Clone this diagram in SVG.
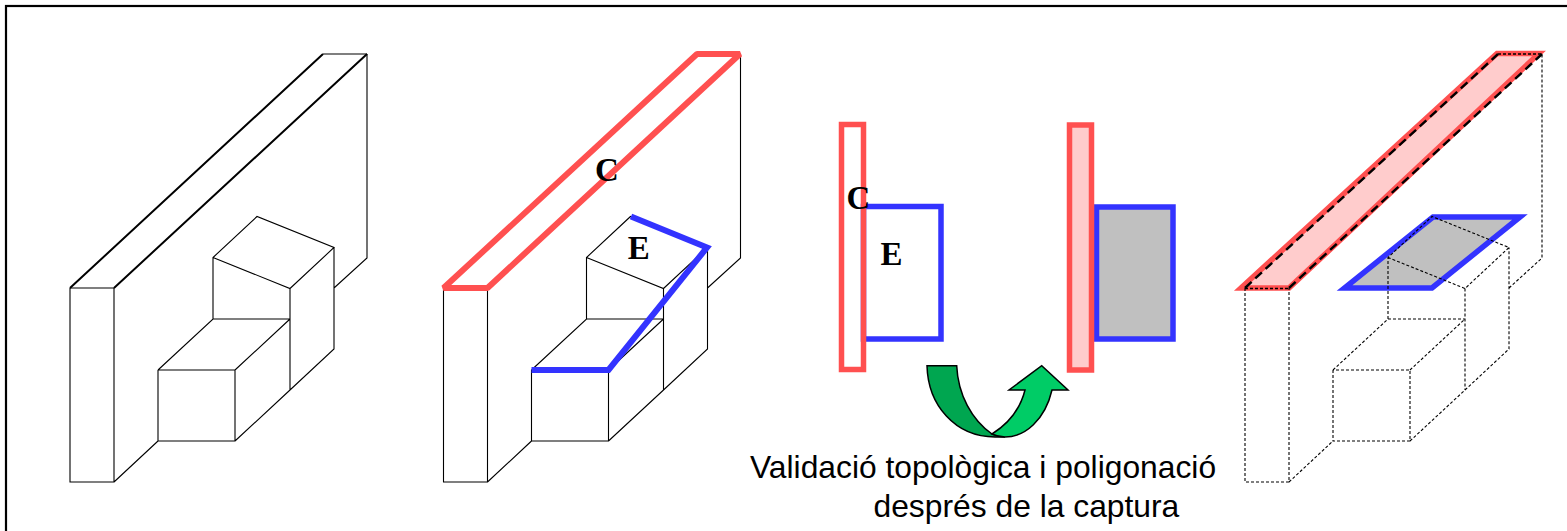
<svg xmlns="http://www.w3.org/2000/svg" width="1567" height="531" viewBox="0 0 1567 531">
<style>
.l{fill:none;stroke:#000;stroke-width:1.1}
.k{fill:none;stroke:#000;stroke-width:2}
.d{fill:none;stroke:#000;stroke-width:1.1;stroke-dasharray:3 2}
.r{stroke:#ff5050;stroke-width:6;fill:none;stroke-linejoin:bevel}
.b{stroke:#3333ff;stroke-width:6;fill:none}
.t{font-family:"Liberation Serif",serif;font-weight:bold;font-size:33px;fill:#000}
.s{font-family:"Liberation Sans",sans-serif;font-size:31.800px;fill:#000}
</style>
<defs>
<path id="solid" d="M70 288V482H114V288M70 288H114M70 482H114M114 482L158 441M158 370V441H235V370H158M235 441L290 390L334 349V247.500M158 370L213 319H290M235 370L290 319M213 319V257.500L257 216.500L334 247.500L290 288.500L213 257.500M290 288.500V390M334 288L367 258V54M323 54H367"/>
<path id="diag" d="M114 288L367 54M70 288L323 54"/>
</defs>
<rect id="frame" x="6" y="6" width="1570" height="540" fill="#fff" stroke="#000" stroke-width="2.200"/>
<g id="view1"><use href="#solid" class="l"/><use href="#diag" class="k"/></g>
<g id="view2"><use href="#solid" class="l" transform="translate(373.500 0)"/>
<path class="r" d="M443.500 288H487.500L740 54H697Z"/>
<path class="b" d="M531.500 370H608.500L707 247.500L631 216.500"/>
<text class="t" x="595" y="180.500">C</text><text class="t" x="627.800" y="258.500">E</text></g>
<g id="view3">
<rect class="b" x="863.500" y="206.500" width="77.500" height="132.500" style="stroke-width:5.500"/>
<rect class="r" x="841.500" y="124.500" width="22" height="245" style="stroke-width:5.500;stroke-linejoin:miter"/>
<text class="t" x="846.500" y="208.500">C</text><text class="t" x="880.500" y="265">E</text></g>
<g id="view4">
<rect class="b" x="1096.500" y="207" width="76.500" height="132" style="fill:#c0c0c0;stroke-width:5.500"/>
<rect class="r" x="1069.500" y="125" width="22" height="245" style="fill:#ffcccc;stroke-width:5.500;stroke-linejoin:miter"/></g>
<g id="arrow" stroke="#000" stroke-width="1.500">
<path d="M992 434C972 420 958 395 956.700 365.700H927C928 405 955 437 995 437L1005 437Z" fill="#00a650"/>
<path d="M992 434C1008 424 1020 410 1025 390H1009L1041.700 365.700L1068 390H1052C1045 420 1025 437 1005 437C1000 437 996 436 992 434Z" fill="#00cc66"/>
</g>
<g id="view5">
<path class="r" d="M1241 288H1289L1539 53.500H1497Z" style="fill:#ffcccc;stroke-width:5.500;stroke-linejoin:miter"/>
<path class="b" d="M1344.500 288H1432L1520 217H1433Z" style="fill:#c0c0c0;stroke-width:5.500"/>
<path d="M1245 288L1498 54M1289 288L1542 54" fill="none" stroke="#000" stroke-width="2.400" stroke-dasharray="9 5"/>
<path d="M1245 288.500H1289M1498 54H1542" fill="none" stroke="#000" stroke-width="1.500" stroke-dasharray="3 2"/>
<path class="d" d="M1245 288V482H1289V288M1289 482L1333 441M1333 370V441H1410V370H1333M1410 441L1465 390L1509 349V247.500M1333 370L1388 319H1465M1410 370L1465 319M1388 319V257.500L1432 216.500L1509 247.500L1465 288.500L1388 257.500M1465 288.500V390M1509 288L1542 258V54"/></g>
<text class="s" x="750" y="478">Validació topològica i poligonació</text>
<text class="s" x="873.500" y="517">després de la captura</text>
</svg>
